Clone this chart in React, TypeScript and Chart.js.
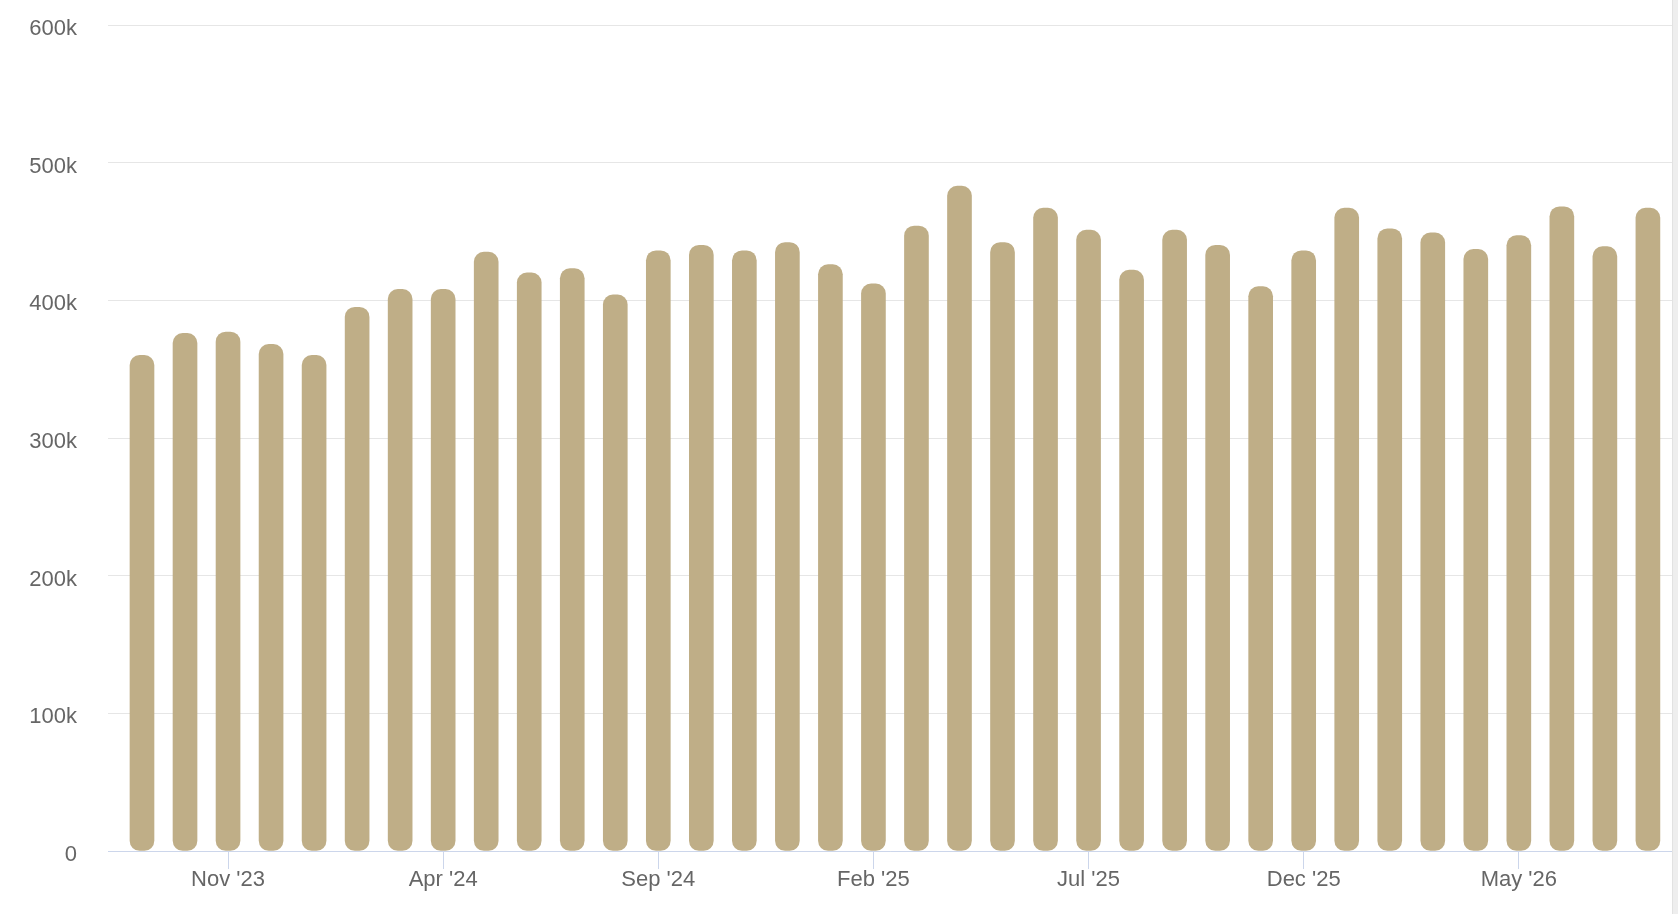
import React, { useEffect, useRef } from 'react';
import { Chart, registerables } from 'chart.js';

Chart.register(...registerables);

// one bar per month, Sep '23 .. Aug '26
const months = [
  "Sep '23", "Oct '23", "Nov '23", "Dec '23", "Jan '24", "Feb '24", "Mar '24", "Apr '24", "May '24",
  "Jun '24", "Jul '24", "Aug '24", "Sep '24", "Oct '24", "Nov '24", "Dec '24", "Jan '25", "Feb '25",
  "Mar '25", "Apr '25", "May '25", "Jun '25", "Jul '25", "Aug '25", "Sep '25", "Oct '25", "Nov '25",
  "Dec '25", "Jan '26", "Feb '26", "Mar '26", "Apr '26", "May '26", "Jun '26", "Jul '26", "Aug '26",
];

const values = [
  360000, 376000, 377000, 368000, 360000, 395000, 408000, 408000, 435000,
  420000, 423000, 404000, 436000, 440000, 436000, 442000, 426000, 412000,
  454000, 483000, 442000, 467000, 451000, 422000, 451000, 440000, 410000,
  436000, 467000, 452000, 449000, 437000, 447000, 468000, 439000, 467000,
];

const tickLabels = ["Nov '23", "Apr '24", "Sep '24", "Feb '25", "Jul '25", "Dec '25", "May '26"];

const yTicks = [0, 100000, 200000, 300000, 400000, 500000, 600000];

const FONT = "'Liberation Sans', Arial, Helvetica, sans-serif";

const BarChart: React.FC = () => {
  const chartRef = useRef<HTMLCanvasElement>(null);
  const chartInstance = useRef<Chart | null>(null);

  useEffect(() => {
    if (!chartRef.current) return;
    const ctx = chartRef.current.getContext('2d');
    if (!ctx) return;

    const tickPositions = tickLabels.map(l => months.indexOf(l));

    chartInstance.current = new Chart(ctx, {
      type: 'bar',
      data: {
        datasets: [
          {
            label: 'Value',
            data: values.map((v, i) => ({ x: i, y: v })),
            backgroundColor: '#bfae87',
            borderWidth: 0,
            borderRadius: 10,
            borderSkipped: false,
            barThickness: 24,
          },
        ],
      },
      options: {
        animation: false,
        responsive: true,
        maintainAspectRatio: false,
        layout: { padding: { top: 25, left: 0, right: 0, bottom: 0 } },
        plugins: {
          legend: { display: false },
          tooltip: { enabled: false },
        },
        scales: {
          x: {
            type: 'linear',
            offset: false,
            min: -0.79,
            max: 35.56,
            afterBuildTicks: (scale: any) => {
              scale.ticks = tickPositions.map(v => ({ value: v }));
            },
            afterFit: (scale: any) => {
              scale.height = 63;
            },
            grid: {
              offset: false,
              drawOnChartArea: false,
              drawTicks: true,
              tickLength: 18,
              color: '#ccd6eb',
            },
            border: { display: true, color: '#ccd6eb', width: 1 },
            ticks: {
              padding: 0,
              maxRotation: 0,
              autoSkip: false,
              color: '#666666',
              font: { family: FONT, size: 22, lineHeight: 1 },
              callback: (value: any) => months[Math.round(Number(value))] ?? '',
            },
          },
          y: {
            min: 0,
            max: 600000,
            afterBuildTicks: (scale: any) => {
              scale.ticks = yTicks.map(v => ({ value: v }));
            },
            afterFit: (scale: any) => {
              scale.width = 108;
              scale.paddingTop = 12;
              scale.paddingBottom = 12;
            },
            grid: {
              color: '#e6e6e6',
              lineWidth: 1,
              drawTicks: false,
            },
            border: { display: false },
            ticks: {
              padding: 31,
              labelOffset: 4,
              color: '#666666',
              font: { family: FONT, size: 22 },
              callback: (value: any) => (Number(value) === 0 ? '0' : `${Number(value) / 1000}k`),
            },
          },
        },
      },
    });

    return () => {
      if (chartInstance.current) {
        chartInstance.current.destroy();
        chartInstance.current = null;
      }
    };
  }, []);

  return (
    <div style={{ position: 'fixed', left: 0, top: 0, width: 1678, height: 914, background: '#ffffff', overflow: 'hidden' }}>
      <div style={{ position: 'absolute', left: 0, top: 0, width: 1672, height: 914 }}>
        <canvas ref={chartRef} />
      </div>
      <div style={{ position: 'absolute', left: 1672, top: 0, width: 6, height: 914, background: '#eeeeee', borderLeft: '1px solid #e2e2e2', boxSizing: 'border-box' }} />
    </div>
  );
};

export default function App() {
  return <BarChart />;
}
